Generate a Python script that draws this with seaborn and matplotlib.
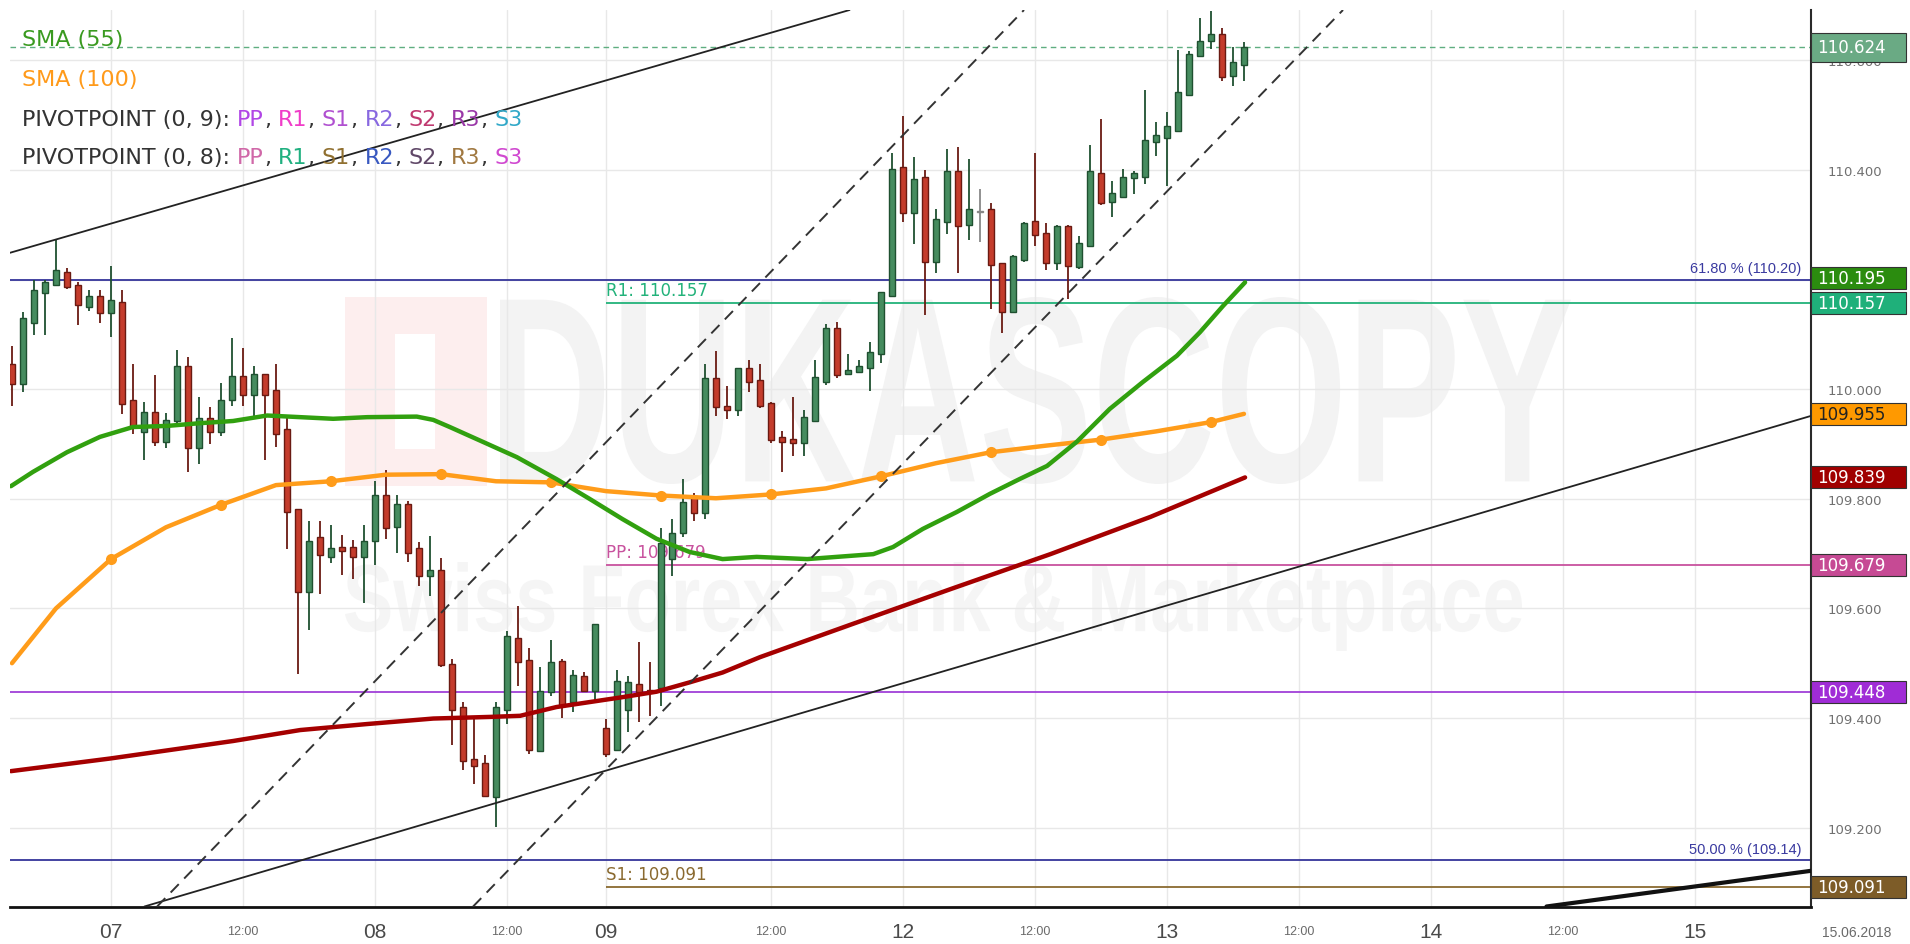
import matplotlib
matplotlib.use("Agg")
import matplotlib.pyplot as plt
import matplotlib.transforms as mtransforms
from matplotlib.patches import Rectangle, PathPatch
from matplotlib.textpath import TextPath
from matplotlib.font_manager import FontProperties
import numpy as np
import pandas as pd
import seaborn as sns

# USD/JPY hourly candles, bar 0 = 07 00:00
bar = list(range(-9, 104))
opens = [110.046, 110.009, 110.121, 110.176, 110.190, 110.214, 110.190, 110.150, 110.170, 110.139,
         110.159, 109.980, 109.922, 109.958, 109.904, 109.942, 110.042, 109.893, 109.947, 109.922,
         109.980, 110.024, 109.989, 110.028, 109.999, 109.927, 109.781, 109.630, 109.730, 109.694,
         109.712, 109.712, 109.694, 109.723, 109.807, 109.749, 109.791, 109.710, 109.659, 109.670,
         109.499, 109.420, 109.325, 109.318, 109.256, 109.415, 109.546, 109.506, 109.340, 109.447,
         109.504, 109.429, 109.477, 109.449, 109.382, 109.342, 109.415, 109.462, 109.451, 109.455,
         109.690, 109.738, 109.805, 109.774, 110.020, 109.969, 109.962, 110.039, 110.017, 109.975,
         109.913, 109.909, 109.902, 109.942, 110.013, 110.112, 110.028, 110.031, 110.039, 110.064,
         110.170, 110.405, 110.322, 110.387, 110.232, 110.305, 110.398, 110.300, 110.323, 110.329,
         110.230, 110.141, 110.236, 110.307, 110.285, 110.230, 110.298, 110.223, 110.261, 110.395,
         110.342, 110.351, 110.385, 110.387, 110.451, 110.458, 110.471, 110.537, 110.608, 110.635,
         110.648, 110.571, 110.592]
closes = [110.009, 110.130, 110.181, 110.196, 110.217, 110.186, 110.154, 110.170, 110.139, 110.163,
          109.973, 109.933, 109.958, 109.904, 109.944, 110.042, 109.893, 109.947, 109.922, 109.980,
          110.024, 109.989, 110.028, 109.989, 109.918, 109.776, 109.630, 109.723, 109.697, 109.710,
          109.705, 109.694, 109.723, 109.807, 109.747, 109.791, 109.701, 109.659, 109.670, 109.497,
          109.415, 109.322, 109.312, 109.258, 109.420, 109.550, 109.502, 109.342, 109.449, 109.502,
          109.422, 109.478, 109.449, 109.572, 109.334, 109.468, 109.466, 109.447, 109.447, 109.719,
          109.738, 109.794, 109.774, 110.020, 109.967, 109.962, 110.039, 110.013, 109.969, 109.907,
          109.904, 109.902, 109.949, 110.022, 110.112, 110.026, 110.035, 110.042, 110.068, 110.177,
          110.402, 110.322, 110.384, 110.232, 110.311, 110.398, 110.298, 110.329, 110.325, 110.227,
          110.141, 110.243, 110.303, 110.281, 110.230, 110.298, 110.225, 110.267, 110.398, 110.340,
          110.358, 110.387, 110.395, 110.455, 110.464, 110.480, 110.542, 110.612, 110.635, 110.648,
          110.570, 110.597, 110.624]
highs = [110.079, 110.141, 110.199, 110.199, 110.272, 110.221, 110.196, 110.181, 110.181, 110.225,
         110.181, 110.046, 109.977, 110.026, 109.957, 110.072, 110.059, 109.986, 109.967, 110.011,
         110.093, 110.075, 110.042, 110.028, 110.046, 109.947, 109.781, 109.760, 109.760, 109.752,
         109.734, 109.725, 109.752, 109.832, 109.853, 109.807, 109.796, 109.721, 109.732, 109.692,
         109.508, 109.429, 109.402, 109.333, 109.429, 109.558, 109.604, 109.528, 109.493, 109.542,
         109.508, 109.488, 109.484, 109.572, 109.398, 109.488, 109.477, 109.539, 109.502, 109.747,
         109.763, 109.836, 109.811, 110.046, 110.070, 110.006, 110.039, 110.053, 110.046, 109.977,
         109.924, 109.986, 109.962, 110.053, 110.119, 110.123, 110.064, 110.053, 110.086, 110.177,
         110.431, 110.499, 110.424, 110.400, 110.329, 110.438, 110.442, 110.420, 110.365, 110.340,
         110.230, 110.245, 110.305, 110.431, 110.303, 110.300, 110.300, 110.280, 110.446, 110.493,
         110.380, 110.402, 110.398, 110.546, 110.488, 110.506, 110.619, 110.617, 110.677, 110.690,
         110.659, 110.624, 110.634]
lows = [109.969, 109.995, 110.099, 110.099, 110.190, 110.183, 110.117, 110.143, 110.121, 110.095,
        109.955, 109.918, 109.871, 109.896, 109.893, 109.933, 109.849, 109.863, 109.900, 109.915,
        109.969, 109.969, 109.949, 109.871, 109.895, 109.708, 109.480, 109.561, 109.626, 109.683,
        109.661, 109.654, 109.610, 109.679, 109.727, 109.701, 109.685, 109.641, 109.623, 109.493,
        109.351, 109.305, 109.280, 109.256, 109.201, 109.389, 109.458, 109.334, 109.338, 109.440,
        109.400, 109.411, 109.447, 109.431, 109.329, 109.342, 109.374, 109.393, 109.404, 109.422,
        109.659, 109.730, 109.760, 109.763, 109.951, 109.946, 109.951, 109.995, 109.966, 109.902,
        109.849, 109.878, 109.878, 109.940, 110.008, 110.020, 110.028, 110.031, 109.997, 110.048,
        110.168, 110.305, 110.265, 110.135, 110.212, 110.283, 110.212, 110.272, 110.269, 110.146,
        110.103, 110.141, 110.232, 110.261, 110.217, 110.217, 110.165, 110.219, 110.259, 110.336,
        110.314, 110.349, 110.356, 110.374, 110.426, 110.371, 110.469, 110.537, 110.608, 110.621,
        110.562, 110.553, 110.562]

# moving averages
sma55_x = [-9.1, -7.1, -4, -1, 2, 5.1, 8.1, 11.1, 14.2, 17.2, 20.2, 23.3, 27.8, 29.3, 30.8, 33.8,
           36.9, 40.5, 43.5, 46.5, 49.6, 52.6, 55.6, 58.7, 63.3, 69.3, 71.1, 73.8, 76.9, 79.9,
           82.6, 85.1, 87.8, 90.8, 93.8, 96.9, 99, 101.1, 103.1]
sma55_y = [109.823, 109.849, 109.885, 109.913, 109.931, 109.933, 109.938, 109.942, 109.952, 109.949,
           109.946, 109.949, 109.950, 109.944, 109.931, 109.904, 109.876, 109.836, 109.800, 109.763,
           109.727, 109.703, 109.690, 109.694, 109.690, 109.699, 109.712, 109.745, 109.776, 109.809,
           109.836, 109.860, 109.904, 109.964, 110.013, 110.061, 110.104, 110.152, 110.195]
sma100_x = [-9, -5, 0, 5, 10, 15, 20, 25, 30, 35, 40, 45, 50, 55, 60, 65, 70, 75, 80, 85, 90, 95, 100, 103]
sma100_y = [109.500, 109.600, 109.690, 109.748, 109.789, 109.825, 109.832, 109.844, 109.845, 109.832,
            109.830, 109.814, 109.806, 109.801, 109.808, 109.819, 109.841, 109.865, 109.885, 109.897,
            109.908, 109.923, 109.940, 109.955]
sma200_x = [-9.1, -0.1, 11.1, 17.2, 23.3, 29.3, 34.5, 37.2, 40.5, 46.5, 49.6, 52.6, 55.6, 59,
            67.2, 76.3, 85.4, 94.5, 103.1]
sma200_y = [109.303, 109.326, 109.358, 109.378, 109.389, 109.399, 109.402, 109.404, 109.420, 109.438,
            109.448, 109.465, 109.483, 109.511, 109.570, 109.635, 109.699, 109.767, 109.839]

# trend lines, two anchor points each (bar, price)
trend_solid = [[(-9, 110.250), (66.8, 110.690)],
               [(26.9, 109.197), (154.5, 109.951)]]
trend_thick = [(130.5, 109.056), (154.5, 109.121)]
trend_dashed = [[(12, 109.218), (83.1, 110.694)],
                [(84.45, 110.122), (112.1, 110.694)]]

last_price = 110.624
fib_levels = [110.20, 109.14]
fib_labels = ["61.80 % (110.20)", "50.00 % (109.14)"]
pivot_start = 45
pivot_names = ["R1", "PP", "S1"]
pivot_vals = [110.157, 109.679, 109.091]
pivot_colors = ["#22b27a", "#c8529e", "#8a6a30"]
pp9_val = 109.448

tag_vals = [110.624, 110.195, 110.157, 109.955, 109.839, 109.679, 109.448, 109.091]
tag_faces = ["#6aaa84", "#2b8c0f", "#1fb07a", "#ff9900", "#a00000", "#c64a94", "#a02cd6", "#7d5c28"]
tag_text = ["white", "white", "white", "#222222", "white", "white", "white", "white"]

tick_idx = [0, 12, 24, 36, 45, 60, 72, 84, 96, 108, 120, 132, 144]
tick_lab = ["07", "12:00", "08", "12:00", "09", "12:00", "12", "12:00", "13", "12:00", "14", "12:00", "15"]
y_ticks = [109.2, 109.4, 109.6, 109.8, 110.0, 110.2, 110.4, 110.6]
y_lab = ["109.200", "109.400", "109.600", "109.800", "110.000", "", "110.400", "110.600"]

sns.set_theme(style="white")
plt.rcParams['font.family'] = ['Liberation Sans', 'DejaVu Sans']

W, H = 1910, 945
fig = plt.figure(figsize=(W / 100, H / 100), dpi=100)
ax = fig.add_axes([10 / W, 1 - 907.5 / H, 1801 / W, 896.5 / H])
XMIN, XMAX = -9.18, 154.55
YMIN, YMAX = 109.056, 110.692

# faint watermark
def stamp(text, x0, x1, ytop, ybot, color, bold=True):
    fp = FontProperties(family='Liberation Sans', weight='bold' if bold else 'normal')
    tp = TextPath((0, 0), text, size=100, prop=fp)
    bb = tp.get_extents()
    tr = (mtransforms.Affine2D().translate(-bb.x0, -bb.y0)
          .scale((x1 - x0) / bb.width, (ybot - ytop) / bb.height)
          .translate(x0, H - ybot))
    ax.add_artist(PathPatch(tp, transform=tr, facecolor=color, lw=0, zorder=0.2))

ax.add_artist(Rectangle((345 / W, 1 - 487 / H), 142 / W, 189 / H, transform=fig.transFigure,
                        facecolor="#fdeeee", lw=0, zorder=0.2))
ax.add_artist(Rectangle((395 / W, 1 - 450 / H), 40 / W, 115 / H, transform=fig.transFigure,
                        facecolor="white", lw=0, zorder=0.21))
stamp("DUKASCOPY", 500, 1571, 298, 485, "#f3f3f3")
stamp("Swiss Forex Bank & Marketplace", 345, 1522, 563, 652, "#f5f5f5")

ax.set_axisbelow(True)
ax.grid(True, color="#e8e8e8", lw=1)

# horizontal levels
ax.axhline(last_price, color="#5fae80", lw=1, ls=(0, (4, 3)), zorder=1)
for lv, lab in zip(fib_levels, fib_labels):
    ax.axhline(lv, color="#35359a", lw=1.3, zorder=1)
    ax.text(XMAX - 0.9, lv + 0.008, lab, color="#3a3aa0", fontsize=10.5, ha="right", va="bottom")
ax.axhline(pp9_val, color="#a040d8", lw=1.3, zorder=1)
for name, val, col in zip(pivot_names, pivot_vals, pivot_colors):
    ax.hlines(val, pivot_start, XMAX, color=col, lw=1.3, zorder=1)
    ax.text(pivot_start, val + 0.007, f"{name}: {val:.3f}", color=col, fontsize=12,
            family="DejaVu Sans", ha="left", va="bottom")

# candles
df = pd.DataFrame({"bar": bar, "open": opens, "high": highs, "low": lows, "close": closes})
up = df["close"] > df["open"] + 0.003
down = df["close"] < df["open"] - 0.003
flat = ~(up | down)
for mask, body, edge in [(up, "#468c5f", "#1f5030"), (down, "#c43c2c", "#6a1a12"),
                         (flat, "#999999", "#888888")]:
    d = df[mask]
    ax.vlines(d["bar"], d["low"], d["high"], color=edge, lw=1.3, zorder=2)
    lo = np.minimum(d["open"], d["close"])
    ht = np.maximum(np.abs(d["close"] - d["open"]), 0.003)
    ax.bar(d["bar"], ht, bottom=lo, width=0.58, color=body, edgecolor=edge, lw=1, zorder=3)

# moving averages
sns.lineplot(x=sma200_x, y=sma200_y, ax=ax, color="#a50000", lw=3.2, sort=False, zorder=4)
sns.lineplot(x=sma100_x, y=sma100_y, ax=ax, color="#ff9c1a", lw=3.2, sort=False, zorder=4,
             marker="o", markersize=8, markeredgewidth=0, markevery=slice(2, 23, 2))
sns.lineplot(x=sma55_x, y=sma55_y, ax=ax, color="#31a00f", lw=3.2, sort=False, zorder=4)

# trend lines
for p1, p2 in trend_solid:
    ax.axline(p1, p2, color="#222222", lw=1.3, zorder=5)
ax.axline(trend_thick[0], trend_thick[1], color="#111111", lw=3, zorder=5)
for p1, p2 in trend_dashed:
    ax.axline(p1, p2, color="#333333", lw=1.4, ls=(0, (6, 4)), zorder=5)

ax.set_xlim(XMIN, XMAX)
ax.set_ylim(YMIN, YMAX)

# axes styling
for s in ["top", "left"]:
    ax.spines[s].set_visible(False)
ax.spines["right"].set_color("#2a2a2a")
ax.spines["right"].set_linewidth(1.5)
ax.spines["bottom"].set_color("#111111")
ax.spines["bottom"].set_linewidth(2)

ax.set_xticks(tick_idx)
ax.set_xticklabels(tick_lab)
ax.tick_params(axis="x", length=0, pad=18)
for lbl, txt in zip(ax.get_xticklabels(), tick_lab):
    if ":" in txt:
        lbl.set_fontsize(9)
        lbl.set_color("#6a6a6a")
    else:
        lbl.set_fontsize(15)
        lbl.set_color("#4a4a4a")
    lbl.set_va("center")
fig.text(1857 / W, 1 - 933 / H, "15.06.2018", fontsize=10, color="#6a6a6a", ha="center", va="center")

ax.yaxis.tick_right()
ax.set_yticks(y_ticks)
ax.set_yticklabels(y_lab, family="DejaVu Sans")
ax.tick_params(axis="y", length=0, pad=12, labelsize=9.5, labelcolor="#707070")
ax.set_xlabel("")
ax.set_ylabel("")

# price tags on the right axis
tr = mtransforms.blended_transform_factory(ax.transAxes, ax.transData)
tag_h = 22 / 548
centers = list(tag_vals)
for k in range(1, len(centers)):
    if centers[k - 1] - centers[k] < tag_h + 0.004:
        centers[k - 1] = centers[k] + tag_h + 0.006
for val, cy, face, tc in zip(tag_vals, centers, tag_faces, tag_text):
    h = 29 / 548 if val == last_price else tag_h
    ax.add_patch(Rectangle((1.0, cy - h / 2), 95 / 1801, h, transform=tr, facecolor=face,
                           edgecolor="#333333", lw=0.8, clip_on=False, zorder=10))
    ax.text(1.0 + 6 / 1801, cy, f"{val:.3f}", transform=tr, color=tc, fontsize=12,
            family="DejaVu Sans", ha="left", va="center", clip_on=False, zorder=11)

# indicator legend, top left
legend_rows = [
    [("SMA (55)", "#3a9a20")],
    [("SMA (100)", "#ff9a1a")],
    [("PIVOTPOINT (0, 9):", "#333333"), ("PP", "#b146e6"), ("R1", "#f03cc8"), ("S1", "#b050d0"),
     ("R2", "#8868e0"), ("S2", "#c03a70"), ("R3", "#9a38a8"), ("S3", "#30a8c8")],
    [("PIVOTPOINT (0, 8):", "#333333"), ("PP", "#d068a8"), ("R1", "#20b080"), ("S1", "#907030"),
     ("R2", "#3858c0"), ("S2", "#604868"), ("R3", "#a07840"), ("S3", "#d048d0")],
]
row_y = [50, 90, 130, 168]
space = 5.2
for parts, yb in zip(legend_rows, row_y):
    prev = ax.annotate(parts[0][0], xy=(22, H - yb), xycoords="figure pixels", color=parts[0][1],
                       fontsize=16, family="DejaVu Sans", ha="left", va="bottom",
                       annotation_clip=False, zorder=12)
    for k, (txt, col) in enumerate(parts[1:]):
        prev = ax.annotate(txt, xy=(1, 0), xycoords=prev, xytext=(space, 0), textcoords="offset points",
                           color=col, fontsize=16, family="DejaVu Sans", ha="left", va="bottom",
                           annotation_clip=False, zorder=12)
        if k < len(parts) - 2:
            prev = ax.annotate(",", xy=(1, 0), xycoords=prev, color="#333333", fontsize=16,
                               family="DejaVu Sans", ha="left", va="bottom",
                               annotation_clip=False, zorder=12)

fig.savefig("out.png", dpi=100)
